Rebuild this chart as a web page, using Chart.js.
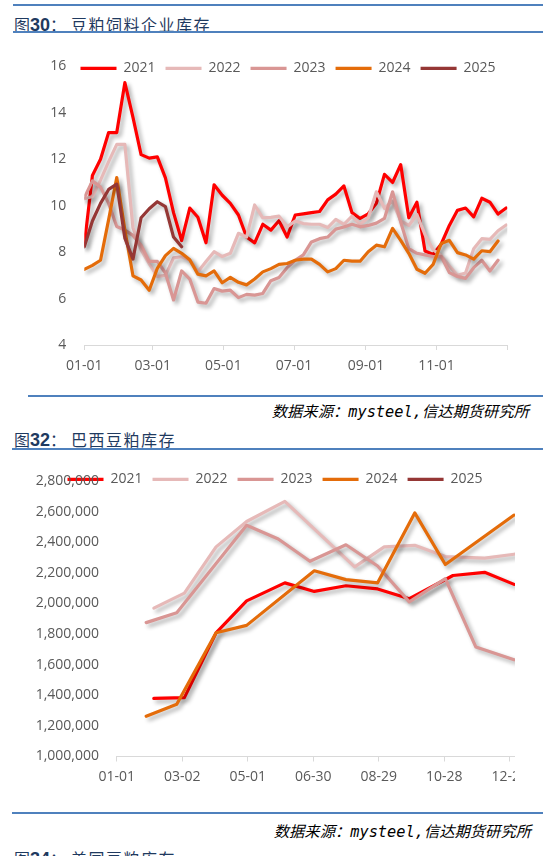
<!DOCTYPE html>
<html>
<head>
<meta charset="utf-8">
<script src="https://cdn.jsdelivr.net/npm/chart.js@4.4.1/dist/chart.umd.min.js"></script>
<style>
html,body{margin:0;padding:0;background:#fff;}
body{width:543px;height:856px;position:relative;overflow:hidden;}
.hl{position:absolute;height:2px;background:#4F81BD;}
.title{position:absolute;left:14px;font-family:"Noto Sans CJK SC",sans-serif;font-size:16px;color:#1F3A60;white-space:nowrap;line-height:20px;}
.title .n{font-family:"Liberation Sans",Arial,sans-serif;font-weight:bold;font-size:18px;}
.title .c{display:inline-block;width:21px;}
.title .t{letter-spacing:1.5px;}
.src{position:absolute;font-family:"DejaVu Sans Mono","Noto Sans CJK SC",monospace;font-style:italic;font-size:15.3px;color:#000;white-space:nowrap;line-height:20px;}
.wrap{position:absolute;overflow:hidden;}
.wrap canvas{position:absolute;left:0;top:0;}
</style>
</head>
<body>
<div class="hl" style="left:13px;top:4px;width:530px"></div>
<div class="title" style="top:14px">图<span class="n">30</span><span class="c">：</span><span class="t">豆粕饲料企业库存</span></div>
<div class="hl" style="left:13px;top:31px;width:530px"></div>
<div class="wrap" style="left:0;top:40px;width:543px;height:350px"><canvas id="c1" width="543" height="350"></canvas></div>
<div class="hl" style="left:28px;top:395px;width:515px"></div>
<div class="src" style="right:14px;top:402px">数据来源：mysteel,信达期货研究所</div>

<div class="title" style="top:429px">图<span class="n">32</span><span class="c">：</span><span class="t">巴西豆粕库存</span></div>
<div class="hl" style="left:12px;top:448px;width:531px"></div>
<div class="wrap" style="left:0;top:455px;width:515px;height:340px"><canvas id="c2" width="560" height="340"></canvas></div>
<div class="hl" style="left:12px;top:812px;width:531px"></div>
<div class="src" style="right:12px;top:822px">数据来源：mysteel,信达期货研究所</div>
<div class="title" style="top:848px">图<span class="n">34</span><span class="c">：</span><span class="t">美国豆粕库存</span></div>

<script>
// ---------- Chart 1: 豆粕饲料企业库存 (weekly) ----------
const seriesNames = ['2021', '2022', '2023', '2024', '2025'];
const topTickLabels = ['01-01', '03-01', '05-01', '07-01', '09-01', '11-01'];
const topDates = ['01-01','01-08','01-15','01-22','01-29','02-05','02-12','02-19','02-26','03-05','03-12','03-19','03-26',
  '04-02','04-09','04-16','04-23','04-30','05-07','05-14','05-21','05-28','06-04','06-11','06-18','06-25',
  '07-02','07-09','07-16','07-23','07-30','08-06','08-13','08-20','08-27','09-03','09-10','09-17','09-24',
  '10-01','10-08','10-15','10-22','10-29','11-05','11-12','11-19','11-26','12-03','12-10','12-17','12-24','12-31'];
const feed2021 = [8.3, 11.3, 12.0, 13.15, 13.15, 15.3, 13.8, 12.2, 12.05, 12.1, 11.2, 9.7, 8.5, 9.9, 9.5, 8.4, 10.9, 10.45,
  10.1, 9.6, 8.65, 8.4, 9.2, 8.95, 9.35, 8.65, 9.6, 9.65, 9.7, 9.75, 10.25, 10.5, 10.85, 9.7, 9.45, 9.65, 10.1, 11.35,
  11.0, 11.77, 9.48, 10.15, 8.05, 7.9, 8.35, 9.15, 9.8, 9.9, 9.52, 10.32, 10.15, 9.64, 9.9];
const feed2022 = [10.3, 10.4, 11.1, 11.9, 12.64, 12.64, 9.05, 8.1, 7.5, 6.95, 7.0, 7.75, 7.8, 7.65, 7.15, 7.6, 8.02, 7.81,
  7.95, 8.81, 8.65, 10.03, 9.48, 9.5, 9.55, 9.09, 9.34, 9.23, 9.2, 9.2, 9.06, 9.41, 9.2, 9.55, 9.2, 9.48, 10.6, 9.89,
  10.2, 9.35, 9.15, 9.62, 8.75, 8.1, 7.85, 7.4, 7.0, 7.1, 8.15, 8.58, 8.55, 8.92, 9.17];
const feed2023 = [10.34, 11.07, 10.8, 10.1, 9.1, 8.95, 8.72, 8.3, 7.6, 7.6, 7.1, 5.94, 7.19, 6.84, 5.85, 5.8, 6.43, 6.32,
  6.36, 6.04, 6.18, 6.15, 6.22, 6.77, 6.91, 7.33, 7.65, 7.88, 8.44, 8.58, 8.65, 8.99, 9.08, 9.2, 9.09, 9.15, 9.25, 9.45,
  10.6, 9.3, 8.15, 7.95, 7.88, 7.81, 7.81, 7.12, 6.95, 6.87, 7.33, 7.65, 7.19, 7.65];
const feed2024 = [7.26, 7.43, 7.65, 9.4, 11.21, 8.95, 6.98, 6.8, 6.36, 7.3, 7.85, 8.16, 7.95, 7.67, 7.05, 6.98, 7.19, 6.68,
  6.91, 6.7, 6.59, 6.84, 7.15, 7.29, 7.47, 7.51, 7.65, 7.7, 7.7, 7.47, 7.15, 7.29, 7.65, 7.61, 7.61, 8.02, 8.3, 8.23,
  9.02, 8.51, 7.95, 7.26, 7.09, 7.47, 8.37, 8.51, 7.98, 7.88, 7.7, 8.06, 8.02, 8.48];
const feed2025 = [8.23, 9.34, 10.1, 10.7, 10.93, 8.6, 7.7, 9.48, 9.87, 10.17, 9.96, 8.65, 8.23];

// ---------- Chart 2: 巴西豆粕库存 (monthly) ----------
const brTickLabels = ['01-01', '03-02', '05-01', '06-30', '08-29', '10-28', '12-27'];
const br2021Dates = ['02-04','03-04','04-02','04-30','06-04','07-01','07-30','08-28','09-26','11-05','12-04','12-31'];
const br2021 = [1380000, 1385000, 1808000, 2017000, 2135000, 2079000, 2116000, 2095000, 2031000, 2183000, 2204000, 2125000];
const br2022Dates = ['02-04','03-04','04-02','04-30','06-04','08-07','09-03','10-01','10-29','12-04','12-31'];
const br2022 = [1970000, 2068000, 2370000, 2536000, 2667000, 2239000, 2370000, 2380000, 2307000, 2297000, 2322000];
const br2023Dates = ['01-28','02-25','04-30','05-29','06-27','07-30','08-28','09-26','10-29','11-26','12-31'];
const br2023 = [1875000, 1940000, 2511000, 2422000, 2276000, 2384000, 2245000, 2011000, 2162000, 1715000, 1632000];
const br2024Dates = ['01-28','02-25','04-02','04-30','07-01','07-30','08-28','10-01','10-29','12-31'];
const br2024 = [1263000, 1341000, 1809000, 1857000, 2214000, 2156000, 2135000, 2592000, 2255000, 2578000];
const br2025Dates = [];
const br2025 = [];

// ---------- helpers ----------
const COLORS = ['#FF0000', '#E6B9B8', '#D99694', '#E46C0A', '#953735'];
function dayOfYear(s) {
  const p = s.split('-').map(Number);
  return Math.round((Date.UTC(2023, p[0] - 1, p[1]) - Date.UTC(2023, 0, 1)) / 86400000);
}
function pts(dates, vals) { return vals.map((v, i) => ({ x: dayOfYear(dates[i]), y: v })); }
function ds(i, data) {
  return {
    label: seriesNames[i], data: data, borderColor: COLORS[i], backgroundColor: COLORS[i],
    borderWidth: 3.2, pointRadius: 0, pointHoverRadius: 0, tension: 0, fill: false,
    borderJoinStyle: 'round', borderCapStyle: 'round', order: 10 - i
  };
}

Chart.defaults.font.family = "'Open Sans', 'DejaVu Sans', sans-serif";
Chart.defaults.font.size = 14;
Chart.defaults.color = '#595959';

const shadowPlugin = {
  id: 'lineShadow',
  beforeDatasetDraw(chart) {
    const ctx = chart.ctx, r = chart.currentDevicePixelRatio || 1;
    ctx.save();
    ctx.shadowColor = 'rgba(0,0,0,0.33)';
    ctx.shadowBlur = 4 * r;
    ctx.shadowOffsetX = 3 * r;
    ctx.shadowOffsetY = 3 * r;
  },
  afterDatasetDraw(chart) { chart.ctx.restore(); }
};
// Legend overlaid on the plot (like Excel): it takes no layout space and is placed in afterLayout.
const legendOverlay = {
  id: 'legendOverlay',
  beforeLayout(chart) {
    const l = chart.legend;
    if (l && !l._overlayPatched) {
      const fit = l.fit.bind(l);
      l.fit = function () { fit(); this.height = 0; };
      l._overlayPatched = true;
    }
  },
  afterLayout(chart, args, opts) {
    const l = chart.legend;
    if (!l || !l.lineWidths) return;
    const pad = l.options.labels.padding;
    const L = l.lineWidths[0];
    l.left = opts.x - pad;
    l.right = l.left + pad + L;
    l.width = l.right - l.left;
    l.top = opts.cy - pad - 7;
    l.bottom = l.top + 14 + 2 * pad;
  }
};

function legendOpts() {
  return {
    display: true, position: 'top', align: 'center',
    labels: {
      usePointStyle: true, pointStyle: 'line', pointStyleWidth: 36, padding: 10,
      color: '#595959', font: { size: 14 },
      sort: (a, b) => a.datasetIndex - b.datasetIndex
    }
  };
}
function xAxis(labels, axisHeight, pad) {
  return {
    type: 'linear', min: 0, max: 365,
    afterBuildTicks: s => { s.ticks = labels.map(l => ({ value: dayOfYear(l) })).concat([{ value: 365 }]); },
    ticks: {
      autoSkip: false, maxRotation: 0, minRotation: 0, padding: pad, color: '#595959', font: { size: 14 },
      callback: v => { const i = labels.findIndex(l => dayOfYear(l) === v); return i >= 0 ? labels[i] : ''; }
    },
    grid: { display: true, drawOnChartArea: false, drawTicks: true, tickLength: 5, color: '#D9D9D9', lineWidth: 1 },
    border: { display: true, color: '#D9D9D9', width: 1 },
    afterFit: s => { s.height = axisHeight; }
  };
}

new Chart(document.getElementById('c1'), {
  type: 'line',
  data: {
    datasets: [
      ds(0, pts(topDates, feed2021)), ds(1, pts(topDates, feed2022)), ds(2, pts(topDates, feed2023)),
      ds(3, pts(topDates, feed2024)), ds(4, pts(topDates, feed2025))
    ]
  },
  options: {
    responsive: false, animation: false, events: [],
    layout: { padding: { top: 16.7, left: 0, right: 35.7, bottom: 0 } },
    plugins: { legend: legendOpts(), tooltip: { enabled: false }, legendOverlay: { x: 80.5, cy: 28.3 } },
    scales: {
      x: xAxis(topTickLabels, 45, 7.6),
      y: {
        min: 4, max: 16,
        ticks: { stepSize: 2, padding: 18, color: '#595959', font: { size: 14 } },
        grid: { display: false, drawTicks: false }, border: { display: false },
        afterFit: s => { s.width = 84.3; }
      }
    }
  },
  plugins: [shadowPlugin, legendOverlay]
});

new Chart(document.getElementById('c2'), {
  type: 'line',
  data: {
    datasets: [
      ds(0, pts(br2021Dates, br2021)), ds(1, pts(br2022Dates, br2022)), ds(2, pts(br2023Dates, br2023)),
      ds(3, pts(br2024Dates, br2024)), ds(4, pts(br2025Dates, br2025))
    ]
  },
  options: {
    responsive: false, animation: false, events: [],
    layout: { padding: { top: 12.7, left: 0, right: 44.8, bottom: 0 } },
    plugins: { legend: legendOpts(), tooltip: { enabled: false }, legendOverlay: { x: 67.5, cy: 24.3 } },
    scales: {
      x: xAxis(brTickLabels, 38.5, 7),
      y: {
        min: 1000000, max: 2800000,
        ticks: { stepSize: 200000, padding: 17.7, color: '#595959', font: { size: 14 },
          callback: v => Number(v).toLocaleString('en-US') },
        grid: { display: false, drawTicks: false }, border: { display: false },
        afterFit: s => { s.width = 116.7; }
      }
    }
  },
  plugins: [shadowPlugin, legendOverlay]
});
</script>
</body>
</html>
